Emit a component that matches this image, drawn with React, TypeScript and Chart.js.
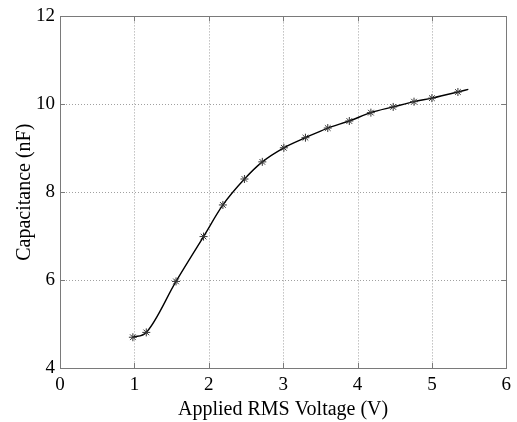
import React, { useEffect, useRef } from "react";
import { Chart, registerables } from "chart.js";

Chart.register(...registerables);

const voltage = [0.98, 1.16, 1.56, 1.93, 2.19, 2.48, 2.72, 3.01, 3.30, 3.60, 3.89, 4.18, 4.48, 4.76, 5.00, 5.35, 5.49];
const capacitance = [4.70, 4.81, 5.97, 6.99, 7.71, 8.30, 8.69, 9.01, 9.24, 9.46, 9.62, 9.81, 9.94, 10.06, 10.14, 10.28, 10.34];
const markerShown = [1, 1, 1, 1, 1, 1, 1, 1, 1, 1, 1, 1, 1, 1, 1, 1, 0];
const xTicks = [0, 1, 2, 3, 4, 5, 6];
const yTicks = [4, 6, 8, 10, 12];

const FONT = "'Liberation Serif', 'Times New Roman', serif";

const framePlugin = {
  id: "matlabFrame",
  beforeDatasetsDraw(chart: any) {
    const { ctx, chartArea: a, scales } = chart;
    const xs = scales.x, ys = scales.y;
    ctx.save();
    ctx.strokeStyle = "#a0a0a0";
    ctx.lineWidth = 1;
    ctx.setLineDash([1, 2]);
    xTicks.slice(1, -1).forEach((v) => {
      const px = Math.round(xs.getPixelForValue(v)) + 0.5;
      ctx.beginPath();
      ctx.moveTo(px, a.top);
      ctx.lineTo(px, a.bottom);
      ctx.stroke();
    });
    yTicks.slice(1, -1).forEach((v) => {
      const py = Math.round(ys.getPixelForValue(v)) + 0.5;
      ctx.beginPath();
      ctx.moveTo(a.left, py);
      ctx.lineTo(a.right, py);
      ctx.stroke();
    });
    ctx.restore();
  },
  afterDatasetsDraw(chart: any) {
    const { ctx, chartArea: a, scales } = chart;
    const xs = scales.x, ys = scales.y;
    ctx.save();
    ctx.strokeStyle = "#7a7a7a";
    ctx.lineWidth = 1;
    ctx.setLineDash([]);
    ctx.strokeRect(Math.round(a.left) + 0.5, Math.round(a.top) + 0.5, Math.round(a.right - a.left), Math.round(a.bottom - a.top));
    const t = 5;
    xTicks.forEach((v) => {
      const px = Math.round(xs.getPixelForValue(v)) + 0.5;
      ctx.beginPath();
      ctx.moveTo(px, a.bottom);
      ctx.lineTo(px, a.bottom - t);
      ctx.moveTo(px, a.top);
      ctx.lineTo(px, a.top + t);
      ctx.stroke();
    });
    yTicks.forEach((v) => {
      const py = Math.round(ys.getPixelForValue(v)) + 0.5;
      ctx.beginPath();
      ctx.moveTo(a.left, py);
      ctx.lineTo(a.left + t, py);
      ctx.moveTo(a.right, py);
      ctx.lineTo(a.right - t, py);
      ctx.stroke();
    });
    ctx.restore();
  },
};

export default function App() {
  const ref = useRef<HTMLCanvasElement | null>(null);

  useEffect(() => {
    if (!ref.current) return;
    const data = voltage.map((x, i) => ({ x, y: capacitance[i] }));
    const chart = new Chart(ref.current, {
      type: "line",
      data: {
        datasets: [
          {
            data,
            borderColor: "#000",
            borderWidth: 1.4,
            cubicInterpolationMode: "monotone",
            pointStyle: "star",
            pointRadius: markerShown.map((m) => (m ? 4 : 0)),
            pointBorderColor: "#333",
            pointBorderWidth: 1,
            pointBackgroundColor: "#333",
            fill: false,
          },
        ],
      },
      options: {
        responsive: false,
        animation: false,
        events: [],
        layout: { padding: { left: 0, top: 15, right: 9, bottom: 0 } },
        plugins: { legend: { display: false }, tooltip: { enabled: false } },
        scales: {
          x: {
            type: "linear",
            min: 0,
            max: 6,
            afterBuildTicks: (s: any) => {
              s.ticks = xTicks.map((v) => ({ value: v }));
            },
            afterFit: (s: any) => {
              s.height = 54;
            },
            grid: { display: false, drawTicks: false },
            border: { display: false },
            ticks: { color: "#000", padding: 6, font: { family: FONT, size: 19 }, maxRotation: 0 },
            title: {
              display: true,
              text: "Applied RMS Voltage (V)",
              color: "#000",
              font: { family: FONT, size: 20 },
              padding: { top: 3, bottom: 0 },
            },
          },
          y: {
            type: "linear",
            min: 4,
            max: 12,
            afterBuildTicks: (s: any) => {
              s.ticks = yTicks.map((v) => ({ value: v }));
            },
            afterFit: (s: any) => {
              s.width = 60;
            },
            grid: { display: false, drawTicks: false },
            border: { display: false },
            ticks: { color: "#000", padding: 5, font: { family: FONT, size: 19 } },
            title: {
              display: true,
              text: "Capacitance (nF)",
              color: "#000",
              font: { family: FONT, size: 20 },
              padding: { top: 13, bottom: 0 },
            },
          },
        },
      },
      plugins: [framePlugin],
    } as any);
    return () => chart.destroy();
  }, []);

  return (
    <div style={{ position: "fixed", left: 0, top: 0, width: 517, height: 422, background: "#fff" }}>
      <canvas ref={ref} width={517} height={422} style={{ width: 517, height: 422, display: "block" }} />
    </div>
  );
}
